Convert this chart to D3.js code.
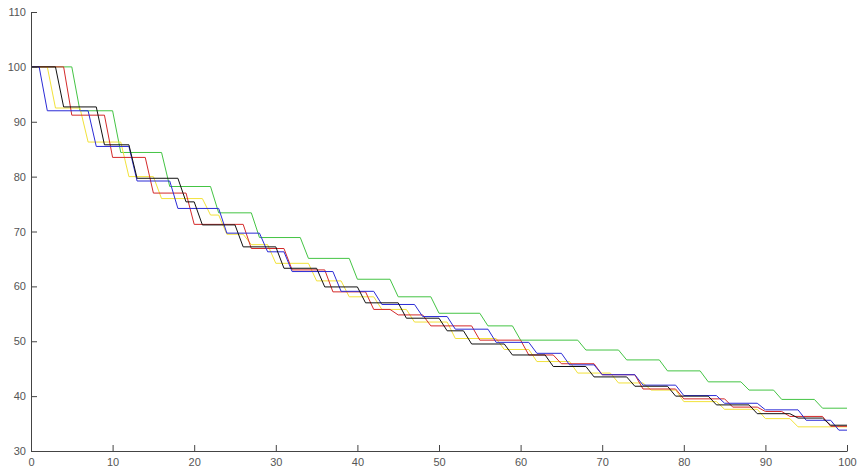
<!DOCTYPE html>
<html><head><meta charset="utf-8">
<script src="https://cdn.jsdelivr.net/npm/d3@7"></script>
<style>
html,body{margin:0;padding:0;background:#fff;}
svg{display:block;}
.tick text{font-family:"Liberation Sans",Arial,sans-serif;font-size:11px;fill:#555;}
</style></head>
<body><svg id="c" width="858" height="468"></svg>
<script>
// x where each level starts (step held until next start - 1), and the level
const greenStart = [0,6,11,17,23,28,34,40,45,50,56,60,68,73,78,83,88,92,97];
const greenLevel = [100,92,84.4,78.2,73.4,68.9,65.1,61.3,58.1,55.1,52.8,50.2,48.4,46.6,44.6,42.6,41.1,39.4,37.8];

const yellowStart = [0,3,7,12,16,22,24,27,30,35,39,43,47,52,58,62,67,72,76,80,85,90,94];
const yellowLevel = [100,92.5,86.3,80.0,76.0,73.0,69.5,67.6,64.2,61.0,58.1,55.8,53.5,50.5,48.5,46.3,44.2,42.4,41.1,39.0,37.6,35.9,34.4];

const redStart = [0,5,10,15,20,27,32,37,42,45,49,55,61,65,70,75,80,86,90,93,98];
const redLevel = [100,91.2,83.5,77.0,71.3,66.9,63.0,59.0,55.8,54.8,52.8,50.2,47.5,45.9,43.9,41.3,39.5,38.0,37.2,36.3,34.5];

const blueStart = [0,2,8,13,18,24,29,32,38,43,48,52,57,62,66,70,75,80,85,90,95,99];
const blueLevel = [100,92,85.5,79.2,74.2,69.7,66.3,62.7,59.1,56.7,54.5,52.2,49.8,47.8,45.7,43.9,42.0,40.1,38.7,37.5,35.6,33.8];

const blackStart = [0,4,9,13,19,21,26,31,36,41,46,51,54,59,64,69,74,79,84,89,94,98];
const blackLevel = [100,92.7,85.8,79.7,75.4,71.2,67.2,63.3,59.9,57.0,54.2,51.9,49.5,47.5,45.4,43.5,41.8,40.0,38.4,36.8,36.0,34.7];

const xTicks = [0,10,20,30,40,50,60,70,80,90,100];
const yTicks = [30,40,50,60,70,80,90,100,110];

const series = [
  {name:"green", start:greenStart, level:greenLevel, color:"#44c444"},
  {name:"yellow", start:yellowStart, level:yellowLevel, color:"#f2e23a"},
  {name:"red", start:redStart, level:redLevel, color:"#d42a2a"},
  {name:"blue", start:blueStart, level:blueLevel, color:"#2b2bd6"},
  {name:"black", start:blackStart, level:blackLevel, color:"#111111"}
];

const svg = d3.select("#c");
const x = d3.scaleLinear().domain([0,100]).range([31,847]);
const y = d3.scaleLinear().domain([30,110]).range([451,12]);

function points(s){
  const pts=[];
  for(let i=0;i<s.start.length;i++){
    const end = i<s.start.length-1 ? s.start[i+1]-1 : 100;
    pts.push([s.start[i], s.level[i]]);
    if(end!==s.start[i]) pts.push([end, s.level[i]]);
  }
  return pts;
}
const line = d3.line().x(d=>x(d[0])).y(d=>y(d[1]));

svg.selectAll("path.series").data(series).enter().append("path")
  .attr("class","series")
  .attr("fill","none")
  .attr("stroke",d=>d.color)
  .attr("stroke-width",1)
  .attr("d",d=>line(points(d)));

const gx = svg.append("g").attr("transform","translate(0,451)")
  .call(d3.axisBottom(x).tickValues(xTicks).tickSizeInner(-6).tickSizeOuter(0).tickPadding(7));
const gy = svg.append("g").attr("transform","translate(31,0)")
  .call(d3.axisLeft(y).tickValues(yTicks).tickSizeInner(-6).tickSizeOuter(0).tickPadding(5));
[gx,gy].forEach(g=>{
  g.select(".domain").attr("stroke","#444");
  g.selectAll(".tick line").attr("stroke","#444");
});
</script></body></html>
